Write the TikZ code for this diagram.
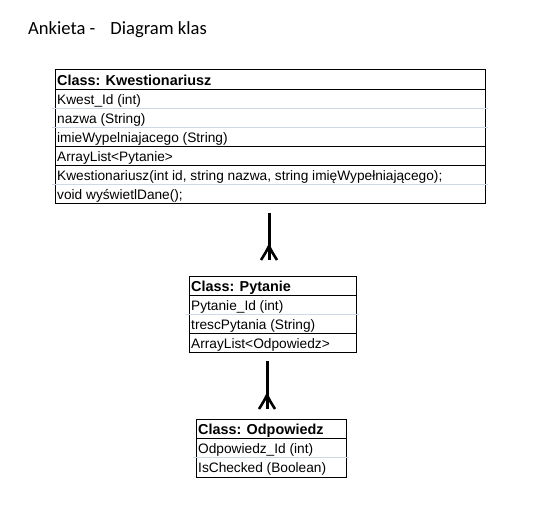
\documentclass[tikz,border=0pt]{standalone}
\usepackage{fontspec}
\setmainfont{Liberation Sans}
\newfontfamily\calibri{Carlito}
\begin{document}
\begin{tikzpicture}[x=1pt,y=-1pt,
  box/.style={draw=black, line width=1pt, anchor=north west, inner sep=0pt},
  solidrow/.style={draw=black, line width=1pt},
  faintrow/.style={draw=gridc, line width=0.8pt},
  rowtext/.style={anchor=base west, inner sep=0pt, font=\fontsize{13.7}{15}\selectfont},
  headtext/.style={rowtext, font=\fontsize{14.4}{15}\selectfont\bfseries},
  conn/.style={line width=3pt},
  crowfoot/.pic={
    \draw[line width=2.6pt] (0,-14) .. controls (-3,-8) .. (-8,0);
    \draw[line width=2.6pt] (0,-14) .. controls (3,-8) .. (8,0);
  }]
\definecolor{gridc}{RGB}{208,215,229}
\useasboundingbox (0,0) rectangle (548,525);
\fill[white] (0,0) rectangle (548,525);
% title
\node[anchor=base west, inner sep=0pt, font=\calibri\fontsize{18.6}{20}\selectfont] (title) at (28,34) {Ankieta -\hspace{15pt}Diagram klas};
% Kwestionariusz
\node[box, minimum width=430pt, minimum height=134pt] (kw) at (55,69) {};
\draw[faintrow] (52,108) -- (488,108);
\draw[faintrow] (52,127) -- (488,127);
\draw[faintrow] (52,184) -- (488,184);
\draw[solidrow] (55,89) -- (485,89);
\draw[solidrow] (55,146) -- (485,146);
\draw[solidrow] (55,165) -- (485,165);
\node[headtext] (kw0) at (57,85) {Class: Kwestionariusz};
\node[rowtext] (kw1) at (57,104.5) {Kwest\_Id (int)};
\node[rowtext] (kw2) at (57,123.5) {nazwa (String)};
\node[rowtext] (kw3) at (57,142.5) {imieWypelniajacego (String)};
\node[rowtext] (kw4) at (57,161.5) {ArrayList<Pytanie>};
\node[rowtext] (kw5) at (57,180.5) {Kwestionariusz(int id, string nazwa, string imięWypełniającego);};
\node[rowtext] (kw6) at (57,199.5) {void wyświetlDane();};
% Pytanie
\node[box, minimum width=167pt, minimum height=76pt] (py) at (189,276) {};
\draw[faintrow] (186,314) -- (359,314);
\draw[solidrow] (189,295) -- (356,295);
\draw[solidrow] (189,333) -- (356,333);
\node[headtext] (py0) at (191,291) {Class: Pytanie};
\node[rowtext] (py1) at (191,310.5) {Pytanie\_Id (int)};
\node[rowtext] (py2) at (191,329.5) {trescPytania (String)};
\node[rowtext] (py3) at (191,348.5) {ArrayList<Odpowiedz>};
% Odpowiedz
\node[box, minimum width=150pt, minimum height=58pt] (od) at (196,419) {};
\draw[faintrow] (193,457) -- (349,457);
\draw[solidrow] (196,438) -- (346,438);
\node[headtext] (od0) at (198,434) {Class: Odpowiedz};
\node[rowtext] (od1) at (198,453.5) {Odpowiedz\_Id (int)};
\node[rowtext] (od2) at (198,472.5) {IsChecked (Boolean)};
% connectors
\coordinate (c1a) at (269,213);
\coordinate (c1b) at (269,260);
\coordinate (c2a) at (267,361);
\coordinate (c2b) at (267,409);
\draw[conn] (c1a) -- (c1b);
\pic at (c1b) {crowfoot};
\draw[conn] (c2a) -- (c2b);
\pic at (c2b) {crowfoot};
\end{tikzpicture}
\end{document}
